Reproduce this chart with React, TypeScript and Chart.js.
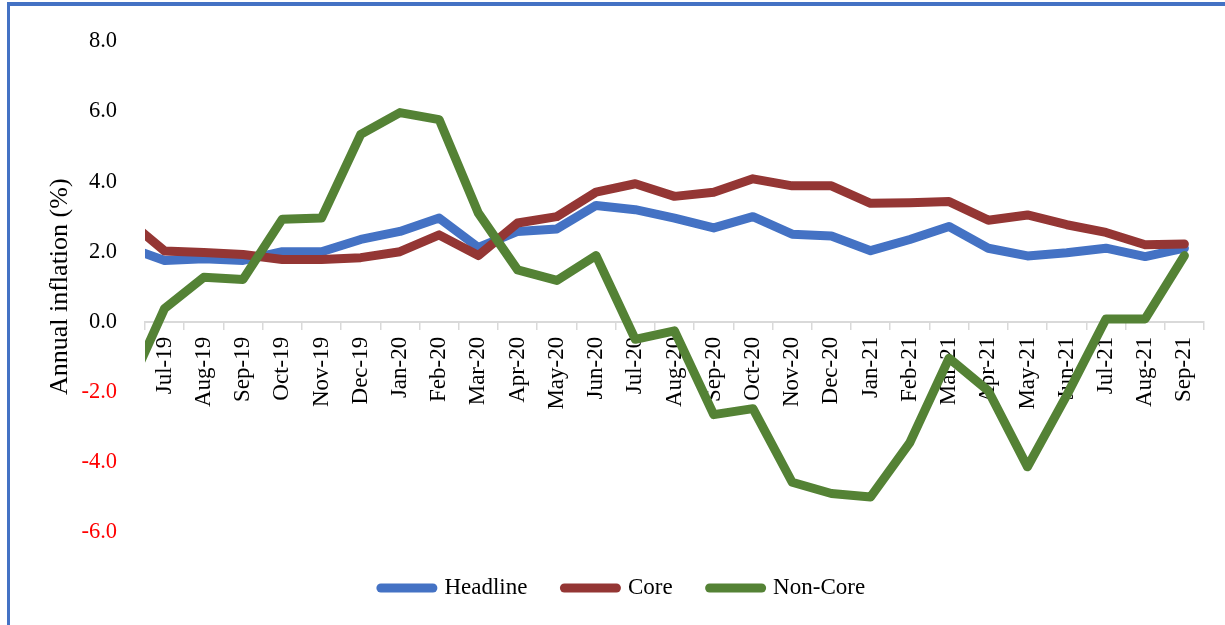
import { useEffect, useRef } from "react";
import { Chart, registerables } from "chart.js";

Chart.register(...registerables);

const months = [
  "Jun-19", "Jul-19", "Aug-19", "Sep-19", "Oct-19", "Nov-19", "Dec-19",
  "Jan-20", "Feb-20", "Mar-20", "Apr-20", "May-20", "Jun-20", "Jul-20",
  "Aug-20", "Sep-20", "Oct-20", "Nov-20", "Dec-20", "Jan-21", "Feb-21",
  "Mar-21", "Apr-21", "May-21", "Jun-21", "Jul-21", "Aug-21", "Sep-21",
];

const headline = [
  2.15, 1.75, 1.8, 1.75, 2.0, 2.0, 2.35, 2.58, 2.96, 2.12, 2.58, 2.65, 3.32, 3.2,
  2.96, 2.68, 3.0, 2.5, 2.45, 2.03, 2.35, 2.72, 2.1, 1.88, 1.97, 2.1, 1.86, 2.1,
];

const core = [
  2.95, 2.02, 1.98, 1.92, 1.78, 1.78, 1.83, 2.0, 2.48, 1.89, 2.82, 3.0, 3.7, 3.94,
  3.58, 3.7, 4.08, 3.88, 3.88, 3.38, 3.4, 3.43, 2.9, 3.05, 2.77, 2.55, 2.2, 2.22,
];

const nonCore = [
  -2.1, 0.38, 1.27, 1.21, 2.93, 2.96, 5.35, 5.97, 5.77, 3.1, 1.48, 1.18, 1.89, -0.5,
  -0.26, -2.65, -2.48, -4.58, -4.9, -5.0, -3.45, -1.04, -1.97, -4.14, -2.1, 0.08, 0.08, 1.89,
];

const seriesNames = ["Headline", "Core", "Non-Core"];
const seriesColors = ["#4472C4", "#943634", "#548235"];

const FONT = "'Liberation Serif', 'Times New Roman', serif";
const LINE_W = 9;

export default function App() {
  const ref = useRef<HTMLCanvasElement>(null);

  useEffect(() => {
    const values = [headline, core, nonCore];
    const chart = new Chart(ref.current!, {
      type: "line",
      data: {
        labels: months,
        datasets: values.map((v, i) => ({
          label: seriesNames[i],
          data: v,
          borderColor: seriesColors[i],
          backgroundColor: seriesColors[i],
          borderWidth: LINE_W,
          borderCapStyle: "round" as const,
          borderJoinStyle: "round" as const,
          pointRadius: 0,
          pointHoverRadius: 0,
          tension: 0,
          order: 3 - i,
          clip: { left: 0, right: false, top: false, bottom: false } as any,
        })),
      },
      options: {
        animation: false,
        responsive: true,
        maintainAspectRatio: false,
        events: [],
        layout: { padding: { left: 42, right: 21, top: 36, bottom: 15.5 } },
        plugins: {
          tooltip: { enabled: false },
          legend: {
            position: "bottom",
            title: {
              display: true,
              text: "",
              font: { size: 1, lineHeight: 1 },
              padding: { top: 6.5, bottom: 0 },
            },
            labels: {
              usePointStyle: true,
              pointStyle: "line",
              pointStyleWidth: 52,
              padding: 37,
              color: "#000000",
              font: { family: FONT, size: 23 },
              sort: (a: any, b: any) => a.datasetIndex - b.datasetIndex,
              generateLabels: (c: any) =>
                Chart.defaults.plugins.legend.labels.generateLabels(c).map((it: any) => ({
                  ...it,
                  pointStyle: "line",
                  lineWidth: LINE_W,
                  lineCap: "round",
                  strokeStyle: seriesColors[it.datasetIndex],
                  fillStyle: seriesColors[it.datasetIndex],
                  fontColor: "#000000",
                })),
            },
          },
        },
        scales: {
          x: {
            type: "category",
            position: { y: 0 } as any,
            min: "Jul-19",
            offset: true,
            grid: {
              display: true,
              drawOnChartArea: false,
              drawTicks: true,
              tickLength: 7,
              color: "#D9D9D9",
              lineWidth: 1.5,
              offset: true,
            },
            border: { display: true, color: "#D9D9D9", width: 2 },
            ticks: {
              autoSkip: false,
              minRotation: 90,
              maxRotation: 90,
              padding: 8,
              color: "#000000",
              font: { family: FONT, size: 23 },
            },
          },
          y: {
            type: "linear",
            position: "left",
            min: -6,
            max: 8,
            afterFit: (scale: any) => {
              scale.width = 103;
            },
            grid: { display: false, drawTicks: false },
            border: { display: false },
            title: {
              display: true,
              text: "Annual inflation (%)",
              color: "#000000",
              font: { family: FONT, size: 26 },
              padding: { top: 3, bottom: 3 },
            },
            ticks: {
              stepSize: 2,
              padding: 28,
              font: { family: FONT, size: 22.5 },
              color: (ctx: any) => (ctx.tick && ctx.tick.value < 0 ? "#FF0000" : "#000000"),
              callback: (v: any) => Number(v).toFixed(1),
            },
          },
        },
      },
    });
    return () => chart.destroy();
  }, []);

  return (
    <>
      <div
        style={{
          position: "fixed",
          left: 7,
          top: 2,
          width: 1400,
          height: 800,
          borderLeft: "3px solid #4472C4",
          borderTop: "4px solid #4472C4",
          boxSizing: "border-box",
        }}
      />
      <div style={{ position: "fixed", left: 0, top: 0, width: 1225, height: 625 }}>
        <canvas ref={ref} />
      </div>
    </>
  );
}
